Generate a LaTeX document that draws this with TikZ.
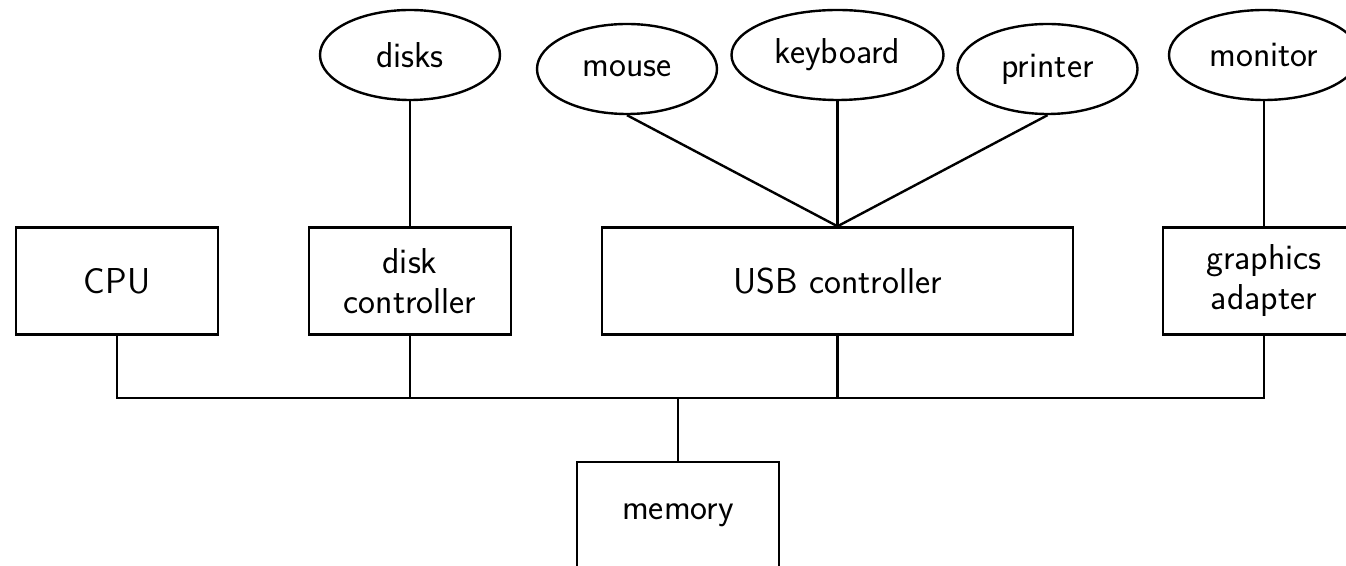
\documentclass[tikz,border=0pt]{standalone}
\usetikzlibrary{shapes.geometric}
\begin{document}
\begin{tikzpicture}[x=0.5pt,y=-0.5pt,
  every node/.style={font=\sffamily\fontsize{18}{20}\selectfont},
  box/.style={draw,line width=1.2pt,rectangle,inner sep=0pt,minimum width=101pt,minimum height=53.5pt,align=center},
  dev/.style={draw,line width=1.2pt,ellipse,inner sep=0pt,minimum width=90pt,minimum height=45pt},
  wire/.style={line width=1.2pt}]
\clip (0,0) rectangle (1346,566);
\useasboundingbox (0,0) rectangle (1346,566);
\node[box] (cpu) at (117,281) {CPU};
\node[box] (dc) at (410,281) {disk\\controller};
\node[box,minimum width=235.5pt] (usb) at (837.5,281) {USB controller};
\node[box] (ga) at (1264,281) {graphics\\adapter};
\node[box] (mem) at (678,515.5) {memory};
\node[dev] (disks) at (410,55) {disks};
\node[dev] (mouse) at (627,69) {mouse};
\node[dev,minimum width=106pt] (kb) at (837.5,55) {keyboard};
\node[dev] (printer) at (1047.5,69) {printer};
\node[dev,minimum width=95pt] (mon) at (1264,55) {monitor};
\coordinate (busL) at (117,398);
\coordinate (busR) at (1264,398);
\draw[wire] (cpu.south) -- (busL) -- (busR) -- (ga.south);
\draw[wire] (dc.south) -- (dc.south |- busL);
\draw[wire] (usb.south) -- (usb.south |- busL);
\draw[wire] (mem.north) -- (mem.north |- busL);
\draw[wire] (disks.south) -- (dc.north);
\draw[wire] (mon.south) -- (ga.north);
\draw[wire] (mouse.south) -- (usb.north);
\draw[wire] (kb.south) -- (usb.north);
\draw[wire] (printer.south) -- (usb.north);
\end{tikzpicture}
\end{document}
